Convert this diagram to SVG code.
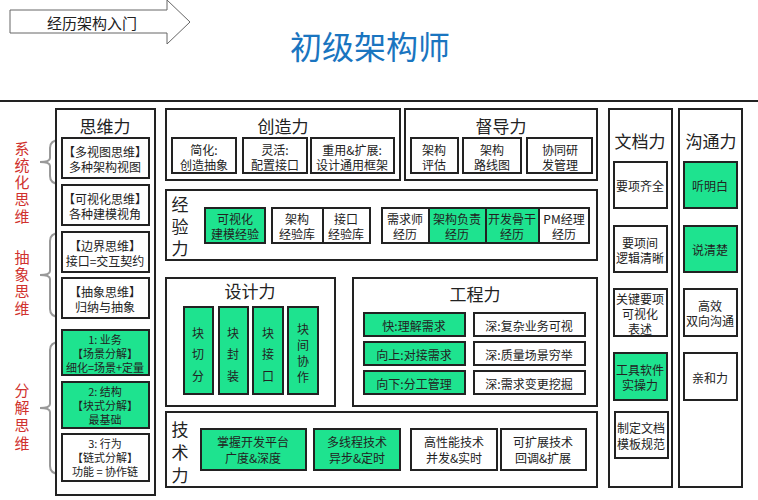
<svg xmlns="http://www.w3.org/2000/svg" width="758" height="500" viewBox="0 0 758 500">
<style>
text{font-family:"Noto Sans CJK SC","Liberation Sans",sans-serif;fill:#222;text-anchor:middle;dominant-baseline:central}
.o{fill:#fff;stroke:#222;stroke-width:2}
.w{fill:#fff;stroke:#222;stroke-width:2}
.g{fill:#1ee38f;stroke:#222;stroke-width:2}
.t{font-size:17px}
.s{font-size:12px}
.x{font-size:11px}
.r{font-size:15px;fill:#d0312d}
.br{fill:none;stroke:#999;stroke-width:2}
</style>
<rect width="758" height="500" fill="#fff"/>
<g id="banner">
<path d="M10,10 H167 V0 L190,22 L167,44 V33 H10 Z" fill="#fff" stroke="#666" stroke-width="1"/>
<text x="92" y="22" font-size="15">经历架构入门</text>
</g>
<text x="370" y="45" font-size="32" style="fill:#1a75c0">初级架构师</text>
<line x1="0" y1="101" x2="758" y2="101" stroke="#222" stroke-width="2"/>

<g id="labels">
<text class="r" x="22" y="147">系</text><text class="r" x="22" y="164">统</text><text class="r" x="22" y="181">化</text><text class="r" x="22" y="198">思</text><text class="r" x="22" y="215">维</text>
<text class="r" x="22" y="256">抽</text><text class="r" x="22" y="273">象</text><text class="r" x="22" y="290">思</text><text class="r" x="22" y="307">维</text>
<text class="r" x="22" y="389">分</text><text class="r" x="22" y="406">解</text><text class="r" x="22" y="424">思</text><text class="r" x="22" y="442">维</text>
</g>
<g id="connectors">
<path class="br" d="M60,140 Q50,140 50,148 V158 Q50,162 40,162 Q50,162 50,166 V176 Q50,184 60,184"/>
<path class="br" d="M60,233 Q50,233 50,241 V271 Q50,275 40,275 Q50,275 50,279 V309 Q50,317 60,317"/>
<path class="br" d="M60,342 Q50,342 50,350 V404 Q50,408 40,408 Q50,408 50,412 V466 Q50,474 60,474"/>
</g>

<g id="siwei">
<rect class="o" x="56" y="109" width="99" height="386"/>
<text class="t" x="105" y="125">思维力</text>
<rect class="w" x="62" y="138" width="87" height="40"/><text class="s" x="105" y="151">【多视图思维】</text><text class="s" x="105" y="166">多种架构视图</text>
<rect class="w" x="62" y="185" width="87" height="40"/><text class="s" x="105" y="198">【可视化思维】</text><text class="s" x="105" y="213">各种建模视角</text>
<rect class="w" x="62" y="232" width="87" height="40"/><text class="s" x="105" y="245">【边界思维】</text><text class="s" x="105" y="260">接口=交互契约</text>
<rect class="w" x="62" y="278" width="87" height="40"/><text class="s" x="105" y="291">【抽象思维】</text><text class="s" x="105" y="306">归纳与抽象</text>
<rect class="g" x="62" y="330" width="87" height="45"/><text class="x" x="105" y="339">1:  业务</text><text class="x" x="105" y="353">【场景分解】</text><text class="x" x="105" y="367">细化=场景+定量</text>
<rect class="g" x="62" y="382" width="87" height="46"/><text class="x" x="105" y="391">2:  结构</text><text class="x" x="105" y="405">【块式分解】</text><text class="x" x="105" y="419">最基础</text>
<rect class="w" x="62" y="434" width="87" height="47"/><text class="x" x="105" y="443">3:  行为</text><text class="x" x="105" y="457">【链式分解】</text><text class="x" x="105" y="471">功能 = 协作链</text>
</g>

<g id="chuangzao">
<rect class="o" x="166" y="109" width="234" height="71"/>
<text class="t" x="283" y="125">创造力</text>
<rect class="w" x="172" y="138" width="64" height="35"/><text class="s" x="204" y="149">简化:</text><text class="s" x="204" y="164">创造抽象</text>
<rect class="w" x="243" y="138" width="64" height="35"/><text class="s" x="275" y="149">灵活:</text><text class="s" x="275" y="164">配置接口</text>
<rect class="w" x="311" y="138" width="83" height="35"/><text class="s" x="352" y="149">重用&amp;扩展:</text><text class="s" x="352" y="164">设计通用框架</text>
</g>

<g id="dudao">
<rect class="o" x="405" y="109" width="192" height="71"/>
<text class="t" x="501" y="125">督导力</text>
<rect class="w" x="411" y="138" width="47" height="35"/><text class="s" x="434" y="149">架构</text><text class="s" x="434" y="164">评估</text>
<rect class="w" x="463" y="138" width="58" height="35"/><text class="s" x="492" y="149">架构</text><text class="s" x="492" y="164">路线图</text>
<rect class="w" x="527" y="138" width="65" height="35"/><text class="s" x="560" y="149">协同研</text><text class="s" x="560" y="164">发管理</text>
</g>

<g id="jingyan">
<rect class="o" x="166" y="190" width="431" height="70"/>
<text class="t" x="180" y="203">经</text><text class="t" x="180" y="225">验</text><text class="t" x="180" y="247">力</text>
<rect class="g" x="205" y="208" width="60" height="35"/><text class="s" x="235" y="218">可视化</text><text class="s" x="235" y="233">建模经验</text>
<rect class="w" x="272" y="208" width="51" height="35"/><text class="s" x="297" y="218">架构</text><text class="s" x="297" y="233">经验库</text>
<rect class="w" x="323" y="208" width="47" height="35"/><text class="s" x="346" y="218">接口</text><text class="s" x="346" y="233">经验库</text>
<rect class="w" x="382" y="208" width="47" height="35"/><text class="s" x="405" y="218">需求师</text><text class="s" x="405" y="233">经历</text>
<rect class="g" x="429" y="208" width="57" height="35"/><text class="s" x="457" y="218">架构负责</text><text class="s" x="457" y="233">经历</text>
<rect class="g" x="486" y="208" width="53" height="35"/><text class="s" x="512" y="218">开发骨干</text><text class="s" x="512" y="233">经历</text>
<rect class="w" x="539" y="208" width="50" height="35"/><text class="s" x="564" y="218">PM经理</text><text class="s" x="564" y="233">经历</text>
</g>

<g id="sheji">
<rect class="o" x="166" y="278" width="169" height="128"/>
<text class="t" x="250" y="290">设计力</text>
<rect class="g" x="184" y="307" width="29" height="87"/><text class="s" x="198" y="332">块</text><text class="s" x="198" y="353">切</text><text class="s" x="198" y="375">分</text>
<rect class="g" x="219" y="307" width="29" height="87"/><text class="s" x="233" y="332">块</text><text class="s" x="233" y="353">封</text><text class="s" x="233" y="375">装</text>
<rect class="g" x="253" y="307" width="30" height="87"/><text class="s" x="268" y="332">块</text><text class="s" x="268" y="353">接</text><text class="s" x="268" y="375">口</text>
<rect class="g" x="288" y="307" width="30" height="87"/><text class="s" x="303" y="328">块</text><text class="s" x="303" y="344">间</text><text class="s" x="303" y="360">协</text><text class="s" x="303" y="376">作</text>
</g>

<g id="gongcheng">
<rect class="o" x="353" y="278" width="244" height="128"/>
<text class="t" x="475" y="293">工程力</text>
<rect class="g" x="364" y="313" width="101" height="23"/><text class="s" x="414" y="325">快:理解需求</text>
<rect class="w" x="474" y="313" width="111" height="23"/><text class="s" x="529" y="325">深:复杂业务可视</text>
<rect class="g" x="364" y="342" width="101" height="23"/><text class="s" x="414" y="354">向上:对接需求</text>
<rect class="w" x="474" y="342" width="111" height="23"/><text class="s" x="529" y="354">深:质量场景穷举</text>
<rect class="g" x="364" y="371" width="101" height="23"/><text class="s" x="414" y="383">向下:分工管理</text>
<rect class="w" x="474" y="371" width="111" height="23"/><text class="s" x="529" y="383">深:需求变更挖掘</text>
</g>

<g id="jishu">
<rect class="o" x="166" y="412" width="431" height="75"/>
<text class="t" x="180" y="428">技</text><text class="t" x="180" y="451">术</text><text class="t" x="180" y="474">力</text>
<rect class="g" x="201" y="429" width="105" height="41"/><text class="s" x="253" y="441">掌握开发平台</text><text class="s" x="253" y="457">广度&amp;深度</text>
<rect class="g" x="314" y="429" width="86" height="41"/><text class="s" x="357" y="441">多线程技术</text><text class="s" x="357" y="457">异步&amp;定时</text>
<rect class="w" x="411" y="429" width="86" height="41"/><text class="s" x="454" y="441">高性能技术</text><text class="s" x="454" y="457">并发&amp;实时</text>
<rect class="w" x="501" y="429" width="85" height="41"/><text class="s" x="543" y="441">可扩展技术</text><text class="s" x="543" y="457">回调&amp;扩展</text>
</g>

<g id="wendang">
<rect class="o" x="609" y="109" width="63" height="378"/>
<text class="t" x="640" y="140">文档力</text>
<rect class="w" x="614" y="162" width="53" height="46"/><text class="s" x="640" y="185">要项齐全</text>
<rect class="w" x="614" y="226" width="53" height="46"/><text class="s" x="640" y="242">要项间</text><text class="s" x="640" y="257">逻辑清晰</text>
<rect class="w" x="614" y="289" width="53" height="47"/><text class="s" x="640" y="298">关键要项</text><text class="s" x="640" y="313">可视化</text><text class="s" x="640" y="328">表述</text>
<rect class="g" x="614" y="353" width="53" height="47"/><text class="s" x="640" y="369">工具软件</text><text class="s" x="640" y="384">实操力</text>
<rect class="w" x="615" y="412" width="53" height="46"/><text class="s" x="641" y="427">制定文档</text><text class="s" x="641" y="443">模板规范</text>
</g>

<g id="goutong">
<rect class="o" x="679" y="109" width="63" height="378"/>
<text class="t" x="711" y="140">沟通力</text>
<rect class="g" x="684" y="162" width="53" height="46"/><text class="s" x="710" y="185">听明白</text>
<rect class="g" x="684" y="226" width="53" height="46"/><text class="s" x="710" y="249">说清楚</text>
<rect class="w" x="684" y="289" width="53" height="47"/><text class="s" x="710" y="305">高效</text><text class="s" x="710" y="320">双向沟通</text>
<rect class="w" x="684" y="353" width="53" height="47"/><text class="s" x="710" y="377">亲和力</text>
</g>
</svg>
